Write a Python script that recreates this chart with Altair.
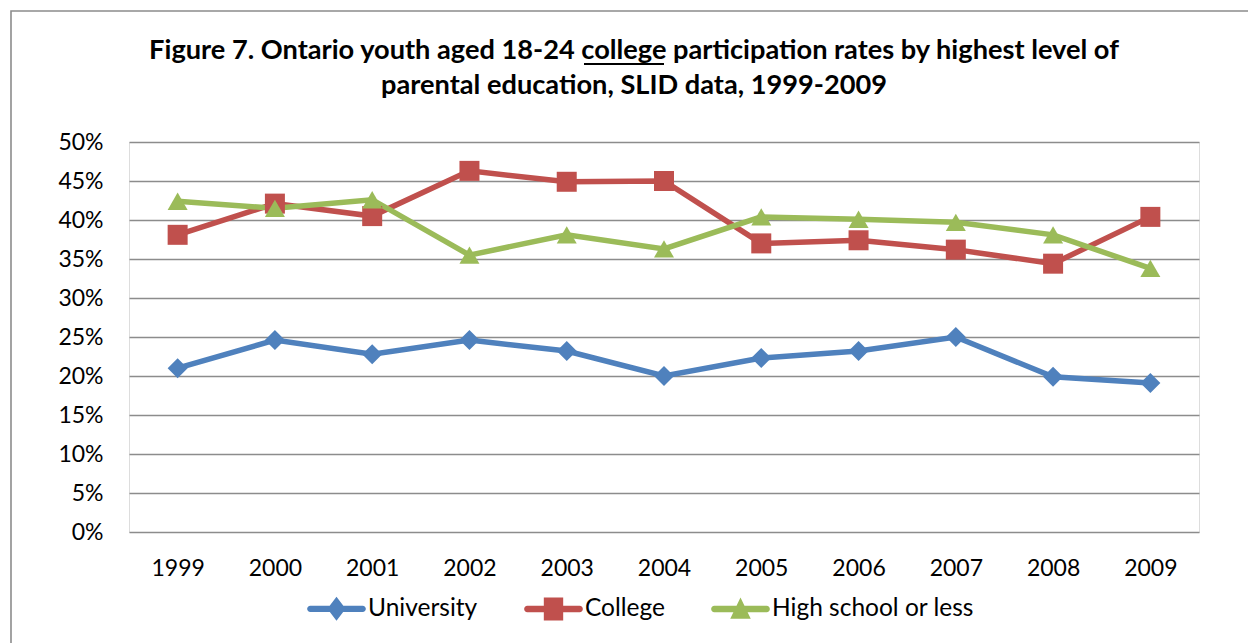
import altair as alt
import pandas as pd

# Survey years and participation rates (share of youth aged 18-24 in college)
years = ["1999", "2000", "2001", "2002", "2003", "2004", "2005", "2006", "2007", "2008", "2009"]
university = [0.210, 0.246, 0.228, 0.246, 0.232, 0.200, 0.223, 0.232, 0.250, 0.199, 0.191]
college = [0.381, 0.421, 0.405, 0.463, 0.449, 0.450, 0.370, 0.374, 0.362, 0.344, 0.404]
high_school = [0.424, 0.415, 0.426, 0.355, 0.381, 0.363, 0.404, 0.401, 0.397, 0.381, 0.338]

series_names = ["University", "College", "High school or less"]
series_colors = ["#4F81BD", "#C0504D", "#9BBB59"]
series_shapes = ["diamond", "square", "triangle-up"]
y_ticks = [0, 0.05, 0.10, 0.15, 0.20, 0.25, 0.30, 0.35, 0.40, 0.45, 0.50]

title_lines = [
    "Figure 7. Ontario youth aged 18-24 college participation rates by highest level of",
    "parental education, SLID data, 1999-2009",
]

rows = []
for name, values in zip(series_names, [university, college, high_school]):
    for yr, v in zip(years, values):
        rows.append({"Year": yr, "Series": name, "Rate": v})
df = pd.DataFrame(rows)

FONT = "Lato"
W, H = 1070, 390

# Legend keys: a short line segment with the series marker on top (unit square coords)
bar = "M-0.92,-0.11 L0.92,-0.11 A0.11,0.11 0 0 1 0.92,0.11 L-0.92,0.11 A0.11,0.11 0 0 1 -0.92,-0.11 Z "
legend_paths = [
    bar + "M0,-0.42 L0.32,0 L0,0.42 L-0.32,0 Z",
    bar + "M-0.34,-0.40 L0.34,-0.40 L0.34,0.40 L-0.34,0.40 Z",
    bar + "M0,-0.40 L0.36,0.34 L-0.36,0.34 Z",
]

x_enc = alt.X(
    "Year:O",
    scale=alt.Scale(type="point", padding=0.5),
    sort=years,
    axis=alt.Axis(
        title=None,
        labelAngle=0,
        ticks=False,
        domain=False,
        grid=False,
        labelFont=FONT,
        labelFontSize=23,
        labelColor="#000000",
        labelPadding=25,
    ),
)
y_enc = alt.Y(
    "Rate:Q",
    scale=alt.Scale(domain=[0, 0.5], nice=False),
    axis=alt.Axis(
        title=None,
        values=y_ticks,
        format=".0%",
        ticks=False,
        domain=False,
        grid=True,
        gridColor="#8C8C8C",
        gridWidth=1.6,
        labelFont=FONT,
        labelFontSize=23,
        labelColor="#000000",
        labelPadding=26,
    ),
)

base = alt.Chart(df).encode(x=x_enc, y=y_enc)

# One line and one marker layer per series
series_layers = []
for name, col, shape in zip(series_names, series_colors, series_shapes):
    s = base.transform_filter(alt.datum.Series == name)
    series_layers.append(s.mark_line(strokeWidth=5.5, color=col))
for name, col, shape in zip(series_names, series_colors, series_shapes):
    s = base.transform_filter(alt.datum.Series == name)
    series_layers.append(
        s.mark_point(filled=True, size=400, opacity=1, shape=shape, color=col)
    )

legend_spec = alt.Legend(
    title=None,
    orient="none",
    direction="horizontal",
    legendX=179,
    legendY=438,
    symbolSize=3249,
    symbolStrokeWidth=0,
    symbolOpacity=1,
    labelFont=FONT,
    labelFontSize=24.5,
    labelColor="#000000",
    labelOffset=3,
    labelLimit=0,
    columnPadding=46,
)

# Invisible points that carry the legend (line + marker keys)
legend_layer = base.mark_point(filled=True, size=10, opacity=0).encode(
    color=alt.Color(
        "Series:N",
        scale=alt.Scale(domain=series_names, range=series_colors),
        legend=legend_spec,
    ),
    shape=alt.Shape(
        "Series:N",
        scale=alt.Scale(domain=series_names, range=legend_paths),
        legend=legend_spec,
    ),
)

one = pd.DataFrame({"k": [0]})

# Outer chart frame
frame = alt.Chart(one).mark_rect(
    fillOpacity=0, stroke="#8C8C8C", strokeWidth=1.6
).encode(
    x=alt.value(-118), x2=alt.value(1160),
    y=alt.value(-131), y2=alt.value(540),
)

# Two-line bold title
title_layers = [
    alt.Chart(one).mark_text(
        text=line, font=FONT, fontSize=27.2, fontWeight="bold", color="#000000",
        align="center", baseline="alphabetic",
    ).encode(x=alt.value(505), y=alt.value(dy))
    for line, dy in zip(title_lines, [-83, -48])
]

# Underline for the emphasised word in the title
underline = alt.Chart(one).mark_rule(color="#000000", strokeWidth=2).encode(
    x=alt.value(455), x2=alt.value(535), y=alt.value(-78)
)

chart = (
    alt.layer(frame, *series_layers, legend_layer, *title_layers, underline)
    .properties(
        width=W,
        height=H,
        autosize=alt.AutoSizeParams(type="none"),
        padding={"left": 129, "top": 142, "right": 49, "bottom": 111},
    )
    .configure_view(stroke=None)
    .configure(background="#FFFFFF")
)

chart.save("out.html", embed_options={"renderer": "svg", "actions": False})
